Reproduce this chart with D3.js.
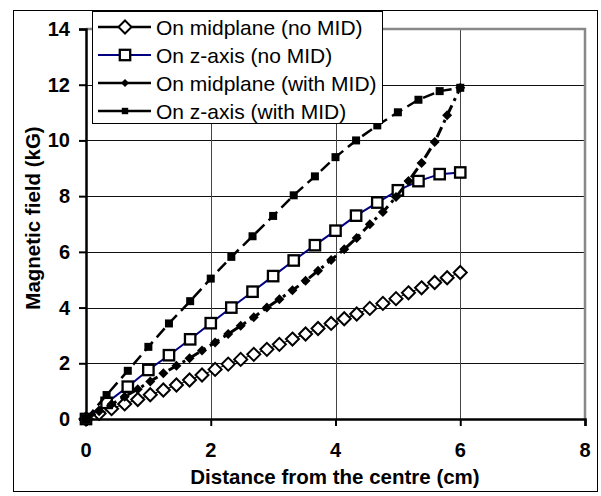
<!DOCTYPE html>
<html lang="en">
<head>
<meta charset="UTF-8">
<script src="https://d3js.org/d3.v7.min.js"></script>
<style>
    body { margin: 0; background: #fff; }
    text { font-family: "Liberation Sans", Arial, sans-serif; }
    .tick-label { font-size: 20px; font-weight: bold; }
    .axis-title { font-size: 20.5px; font-weight: bold; }
    .legend-text { font-size: 21px; }
</style>
</head>
<body>
<svg id="chart" width="601" height="496"></svg>
<script>
    // x positions (cm)
    const xFine = [0, 0.21, 0.41, 0.62, 0.83, 1.03, 1.24, 1.45, 1.66, 1.86, 2.07, 2.28, 2.48, 2.69, 2.90,
        3.10, 3.31, 3.52, 3.72, 3.93, 4.14, 4.34, 4.55, 4.76, 4.97, 5.17, 5.38, 5.59, 5.79, 6.00];
    const xCoarse = [0, 0.33, 0.67, 1.00, 1.33, 1.67, 2.00, 2.33, 2.67, 3.00, 3.33, 3.67, 4.00, 4.33,
        4.67, 5.00, 5.33, 5.67, 6.00];

    // field values (kG)
    const midNoMid = [0, 0.2, 0.37, 0.54, 0.70, 0.87, 1.04, 1.22, 1.40, 1.58, 1.78, 1.97, 2.14, 2.32, 2.50,
        2.68, 2.87, 3.05, 3.25, 3.43, 3.60, 3.77, 3.97, 4.15, 4.32, 4.53, 4.71, 4.90, 5.07, 5.26];
    const zNoMid = [0, 0.58, 1.16, 1.76, 2.29, 2.86, 3.44, 4.00, 4.57, 5.13, 5.69, 6.24, 6.76, 7.30,
        7.77, 8.21, 8.54, 8.79, 8.85];
    const midWithMid = [0, 0.28, 0.53, 0.80, 1.07, 1.35, 1.64, 1.91, 2.18, 2.46, 2.75, 3.05, 3.35, 3.65, 4.00,
        4.30, 4.62, 4.96, 5.32, 5.71, 6.09, 6.50, 6.99, 7.43, 7.97, 8.54, 9.19, 9.94, 10.90, 11.89];
    const zWithMid = [0, 0.86, 1.73, 2.59, 3.43, 4.23, 5.04, 5.82, 6.56, 7.29, 8.03, 8.71, 9.40, 10.00,
        10.54, 11.01, 11.46, 11.77, 11.89];

    const xTicks = [0, 2, 4, 6, 8];
    const yTicks = [0, 2, 4, 6, 8, 10, 12, 14];

    const series = [
        { name: "On midplane (no MID)", xs: xFine, ys: midNoMid, color: "#000", width: 1, dash: null, marker: "openDiamond" },
        { name: "On z-axis (no MID)", xs: xCoarse, ys: zNoMid, color: "#000080", width: 2, dash: null, marker: "openSquare" },
        { name: "On midplane (with MID)", xs: xFine, ys: midWithMid, color: "#000", width: 3, dash: "11,5,3,5", marker: "filledDiamond" },
        { name: "On z-axis (with MID)", xs: xCoarse, ys: zWithMid, color: "#000", width: 2.5, dash: "12,6", marker: "filledSquare" }
    ];

    const svg = d3.select("#chart");
    const plotLeft = 86, plotRight = 585, plotTop = 29, plotBottom = 419;

    const x = d3.scaleLinear().domain([0, 8]).range([plotLeft, plotRight]);
    const y = d3.scaleLinear().domain([0, 14]).range([plotBottom, plotTop]);

    // outer chart border
    svg.append("rect")
        .attr("x", 13.5).attr("y", 10.5)
        .attr("width", 584).attr("height", 481)
        .attr("fill", "#fff").attr("stroke", "#000").attr("stroke-width", 1);

    // gridlines
    svg.append("g").selectAll("line")
        .data(yTicks.filter(d => d > 0 && d < 14))
        .join("line")
        .attr("x1", plotLeft).attr("x2", plotRight)
        .attr("y1", d => Math.round(y(d)) + 0.5).attr("y2", d => Math.round(y(d)) + 0.5)
        .attr("stroke", "#111").attr("stroke-width", 1);

    svg.append("g").selectAll("line")
        .data(xTicks.filter(d => d > 0 && d < 8))
        .join("line")
        .attr("x1", d => Math.round(x(d)) + 0.5).attr("x2", d => Math.round(x(d)) + 0.5)
        .attr("y1", plotTop).attr("y2", plotBottom)
        .attr("stroke", "#444").attr("stroke-width", 1);

    // plot area border (top / right in grey)
    svg.append("path")
        .attr("d", `M${plotLeft},${plotTop} H${plotRight} V${plotBottom}`)
        .attr("fill", "none").attr("stroke", "#888").attr("stroke-width", 2.5);

    // axes
    const xAxis = d3.axisBottom(x).tickValues(xTicks).tickSize(7).tickFormat("");
    const yAxis = d3.axisLeft(y).tickValues(yTicks).tickSize(7).tickFormat("");

    const gx = svg.append("g").attr("transform", `translate(0,${plotBottom})`).call(xAxis);
    const gy = svg.append("g").attr("transform", `translate(${plotLeft},0)`).call(yAxis);
    [gx, gy].forEach(g => {
        g.select(".domain").attr("stroke", "#000").attr("stroke-width", 2.5);
        g.selectAll(".tick line").attr("stroke", "#000").attr("stroke-width", 2);
    });

    svg.append("g").selectAll("text")
        .data(xTicks)
        .join("text")
        .attr("class", "tick-label")
        .attr("x", d => x(d)).attr("y", 457)
        .attr("text-anchor", "middle")
        .text(d => d);

    svg.append("g").selectAll("text")
        .data(yTicks)
        .join("text")
        .attr("class", "tick-label")
        .attr("x", 70).attr("y", d => y(d) + 7)
        .attr("text-anchor", "end")
        .text(d => d);

    // axis titles
    svg.append("text")
        .attr("class", "axis-title")
        .attr("x", 335).attr("y", 484)
        .attr("text-anchor", "middle")
        .text("Distance from the centre (cm)");

    svg.append("text")
        .attr("class", "axis-title")
        .attr("transform", "translate(40,218) rotate(-90)")
        .attr("text-anchor", "middle")
        .text("Magnetic field (kG)");

    function drawMarker(g, type, cx, cy, k = 1) {
        if (type === "openDiamond") {
            const r = 6.5 * k;
            g.append("path")
                .attr("d", `M${cx},${cy - r} L${cx + r},${cy} L${cx},${cy + r} L${cx - r},${cy} Z`)
                .attr("fill", "#fff").attr("stroke", "#000").attr("stroke-width", 2);
        } else if (type === "openSquare") {
            const r = 5.2 * k;
            g.append("rect")
                .attr("x", cx - r).attr("y", cy - r).attr("width", 2 * r).attr("height", 2 * r)
                .attr("fill", "#fff").attr("stroke", "#000").attr("stroke-width", 2.3);
        } else if (type === "filledDiamond") {
            const r = 5 * k;
            g.append("path")
                .attr("d", `M${cx},${cy - r} L${cx + r},${cy} L${cx},${cy + r} L${cx - r},${cy} Z`)
                .attr("fill", "#000");
        } else {
            const r = 4 * k;
            g.append("rect")
                .attr("x", cx - r).attr("y", cy - r).attr("width", 2 * r).attr("height", 2 * r)
                .attr("fill", "#000");
        }
    }

    const line = d3.line().x(d => x(d[0])).y(d => y(d[1]));

    series.forEach(s => {
        const pts = s.xs.map((v, i) => [v, s.ys[i]]);
        const g = svg.append("g");
        g.append("path")
            .attr("d", line(pts))
            .attr("fill", "none")
            .attr("stroke", s.color)
            .attr("stroke-width", s.width)
            .attr("stroke-dasharray", s.dash);
        pts.forEach(p => drawMarker(g, s.marker, x(p[0]), y(p[1])));
    });

    // legend
    const lg = svg.append("g");
    lg.append("rect")
        .attr("x", 92.5).attr("y", 11.5).attr("width", 290).attr("height", 112)
        .attr("fill", "#fff").attr("stroke", "#000").attr("stroke-width", 1);

    const rowY = [27, 55, 83, 111];
    series.forEach((s, i) => {
        const ly = rowY[i];
        const small = s.marker === "filledDiamond" || s.marker === "filledSquare";
        lg.append("line")
            .attr("x1", 98).attr("x2", 151).attr("y1", ly).attr("y2", ly)
            .attr("stroke", s.color).attr("stroke-width", s.marker === "openSquare" ? 2 : 2.5);
        drawMarker(lg, s.marker, 125, ly, small ? 0.8 : 1);
        lg.append("text")
            .attr("class", "legend-text")
            .attr("x", 156).attr("y", ly + 7.5)
            .text(s.name);
    });
</script>
</body>
</html>
